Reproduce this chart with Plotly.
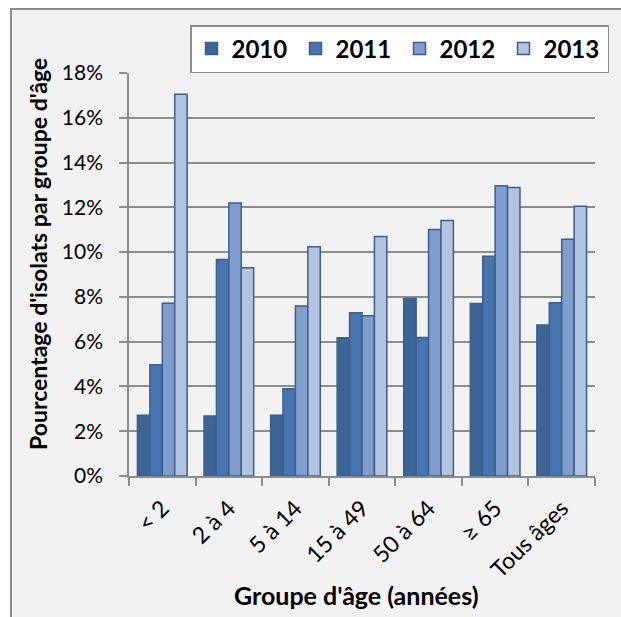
import plotly.graph_objects as go

# Age groups and yearly shares of isolates (%)
age_groups = ["< 2", "2 à 4", "5 à 14", "15 à 49", "50 à 64", "≥ 65", "Tous âges"]
years = ["2010", "2011", "2012", "2013"]
pct_2010 = [2.71, 2.68, 2.71, 6.17, 7.93, 7.71, 6.74]
pct_2011 = [4.97, 9.67, 3.90, 7.29, 6.19, 9.82, 7.74]
pct_2012 = [7.72, 12.19, 7.59, 7.16, 11.01, 12.96, 10.58]
pct_2013 = [17.05, 9.30, 10.24, 10.70, 11.41, 12.89, 12.05]
y_ticks = [0, 2, 4, 6, 8, 10, 12, 14, 16, 18]
y_tick_labels = [f"{v}%" for v in y_ticks]

series = [pct_2010, pct_2011, pct_2012, pct_2013]
fills = ["#3c6494", "#4775b0", "#7f9ecb", "#b3c4e1"]
outline = "#3a5f8e"

FONT = "Lato"
GRID = "#8c8c8c"

# plot area in pixels
L, T, W, H = 129, 73, 466, 403


def px_x(x):
    return (x - L) / W


def px_y(y):
    return 1 - (y - T) / H


fig = go.Figure()
for name, vals, col in zip(years, series, fills):
    fig.add_trace(go.Bar(
        x=age_groups, y=vals, name=name,
        marker=dict(color=col, line=dict(color=outline, width=1.5)),
    ))

# Chart area frame (grey panel with a thin border)
fig.add_shape(type="rect", xref="paper", yref="paper",
              x0=px_x(11), x1=px_x(700), y0=px_y(700), y1=px_y(9),
              fillcolor="#f2f2f2", line=dict(color="#8a8a8a", width=2),
              layer="below")

# Axis titles
fig.add_annotation(text="<b>Pourcentage d'isolats par groupe d'âge</b>",
                   xref="paper", yref="paper", x=px_x(38), y=px_y(254),
                   xanchor="center", yanchor="middle",
                   textangle=-90, showarrow=False,
                   font=dict(family=FONT, size=23, color="black"))
fig.add_annotation(text="<b>Groupe d'âge (années)</b>",
                   xref="paper", yref="paper", x=px_x(356), y=px_y(595),
                   xanchor="center", yanchor="middle",
                   showarrow=False,
                   font=dict(family=FONT, size=25, color="black"))

fig.update_layout(
    width=621, height=617,
    margin=dict(l=L, r=621 - L - W, t=T, b=617 - T - H, autoexpand=False),
    paper_bgcolor="white", plot_bgcolor="rgba(0,0,0,0)",
    barmode="group", bargap=0.254, bargroupgap=0,
    font=dict(family=FONT, color="black"),
    showlegend=True,
    legend=dict(
        orientation="h", xref="container", yref="container",
        x=190 / 621, y=1 - 25 / 617, xanchor="left", yanchor="top",
        bgcolor="white", bordercolor="#8c8c8c", borderwidth=1.5,
        font=dict(family=FONT, size=24, color="black", weight="bold"),
        entrywidth=59, traceorder="normal",
    ),
    xaxis=dict(
        tickangle=-45, tickfont=dict(family=FONT, size=23),
        showline=True, linecolor=GRID, linewidth=1.5,
        ticks="outside", ticklen=8, tickcolor=GRID, tickwidth=1.5,
        tickson="boundaries", showgrid=False, ticklabelstandoff=8,
    ),
    yaxis=dict(
        range=[0, 18], tickvals=y_ticks, ticktext=y_tick_labels,
        tickfont=dict(family=FONT, size=21),
        showline=True, linecolor=GRID, linewidth=1.5,
        ticks="outside", ticklen=8, tickcolor=GRID, tickwidth=1.5,
        showgrid=True, gridcolor=GRID, gridwidth=1.5, zeroline=False,
        ticklabelstandoff=12,
    ),
)

fig.write_html("out.html")
